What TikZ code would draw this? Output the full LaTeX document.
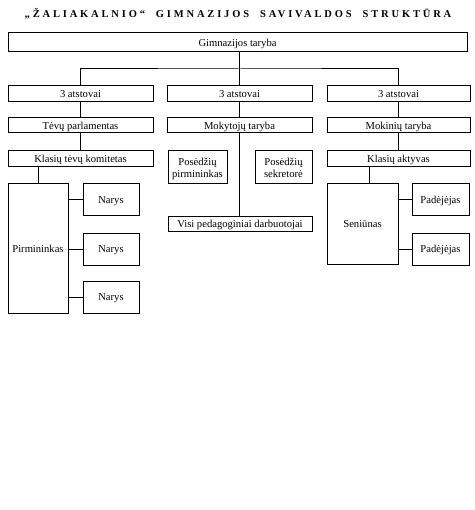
\documentclass[tikz,border=0pt]{standalone}
\usepackage{fontspec}
\setmainfont{Liberation Serif}
\begin{document}
\begin{tikzpicture}[x=1pt,y=-1pt,
  line width=1pt,
  box/.style={draw, inner sep=0pt, align=center, text depth=0pt,
    font=\fontsize{10.6}{12}\selectfont}]
\useasboundingbox (0,0) rectangle (474,510);

% Pavadinimas
\node (title) at (238,14)
{\fontsize{10.5}{12}\selectfont\bfseries\addfontfeature{LetterSpace=27}„ŽALIAKALNIO“\ \ GIMNAZIJOS\ \ SAVIVALDOS\ \ STRUKTŪRA};

% Gimnazijos taryba
\node[box, minimum width=459, minimum height=19] (taryba) at (237.5,42.5)
{Gimnazijos taryba};
\coordinate (hub) at (239.5,69);

% Atstovai
\node[box, minimum width=145, minimum height=16] (atst1) at (80.5,94) {3 atstovai};
\node[box, minimum width=145, minimum height=16] (atst2) at (239.5,94) {3 atstovai};
\node[box, minimum width=143, minimum height=16] (atst3) at (398.5,94) {3 atstovai};

\draw (taryba.south -| hub) -- (hub);
\draw (atst1.north) |- (hub) -| (atst3.north);
\draw (hub) -- (atst2.north);

% Tevai
\node[box, minimum width=145, minimum height=15] (parl) at (80.5,125.5) {Tėvų parlamentas};
\node[box, minimum width=145, minimum height=16] (komit) at (80.5,159) {Klasių tėvų komitetas};
\node[box, minimum width=60, minimum height=129] (pirm) at (38,248.5) {Pirmininkas};
\node[box, minimum width=56, minimum height=32] (narys1) at (111,200) {Narys};
\node[box, minimum width=56, minimum height=32] (narys2) at (111,249) {Narys};
\node[box, minimum width=56, minimum height=32] (narys3) at (111,297) {Narys};

\draw (atst1) -- (parl);
\draw (parl) -- (komit);
\draw (komit.south -| pirm) -- (pirm.north);
\foreach \n in {narys1,narys2,narys3}
  \draw (\n.west -| pirm.east) -- (\n.west);

% Mokytojai
\node[box, minimum width=145, minimum height=15] (moktar) at (239.5,125.5) {Mokytojų taryba};
\node[box, minimum width=59, minimum height=33] (pospirm) at (197.5,167.5) {Posėdžių\\pirmininkas};
\node[box, minimum width=57, minimum height=33] (possekr) at (283.5,167.5) {Posėdžių\\sekretorė};
\node[box, minimum width=144, minimum height=14] (visi) at (240,224) {Visi pedagoginiai darbuotojai};

\draw (atst2) -- (moktar);
\draw (moktar.south) -- (visi.north -| moktar.south);

% Mokiniai
\node[box, minimum width=143, minimum height=15] (mokin) at (398.5,125.5) {Mokinių taryba};
\node[box, minimum width=143, minimum height=16] (aktyv) at (398.5,159) {Klasių aktyvas};
\node[box, minimum width=71, minimum height=80] (senun) at (362.5,224) {Seniūnas};
\node[box, minimum width=57, minimum height=32] (padej1) at (440.5,200) {Padėjėjas};
\node[box, minimum width=57, minimum height=32] (padej2) at (440.5,249) {Padėjėjas};

\draw (atst3) -- (mokin);
\draw (mokin) -- (aktyv);
\draw ([xshift=7pt]senun.north |- aktyv.south) -- ([xshift=7pt]senun.north);
\foreach \n in {padej1,padej2}
  \draw (\n.west -| senun.east) -- (\n.west);

\end{tikzpicture}
\end{document}
